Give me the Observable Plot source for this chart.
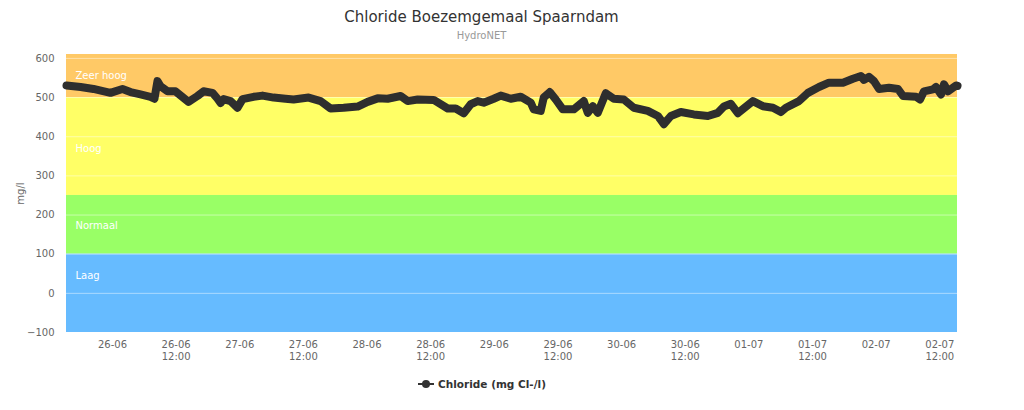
<!DOCTYPE html>
<html>
<head>
<meta charset="utf-8">
<script src="https://cdn.jsdelivr.net/npm/d3@7"></script>
<script src="https://cdn.jsdelivr.net/npm/@observablehq/plot@0.6"></script>
<style>
  body { margin: 0; background: #fff; font-family: "DejaVu Sans", sans-serif; }
  #wrap { position: relative; width: 1024px; height: 410px; overflow: hidden; }
  #title { position: absolute; left: 0; width: 963px; top: 8px; text-align: center; font-size: 15px; color: #333; }
  #subtitle { position: absolute; left: 0; width: 963px; top: 30px; text-align: center; font-size: 10px; color: #999; }
  #chart { position: absolute; left: 0; top: 46px; }
  #legend { position: absolute; left: 0; width: 963px; top: 378px; display: flex; justify-content: center; align-items: center; font-size: 10.5px; font-weight: bold; color: #333; }
  #legend svg { margin-right: 3px; }
</style>
</head>
<body>
<div id="wrap">
  <div id="title">Chloride Boezemgemaal Spaarndam</div>
  <div id="subtitle">HydroNET</div>
  <div id="chart"></div>
  <div id="legend"><svg width="18" height="10"><line x1="1" y1="5" x2="17" y2="5" stroke="#333" stroke-width="2"/><circle cx="9" cy="5" r="4" fill="#333"/></svg><span>Chloride (mg Cl-/l)</span></div>
</div>
<script>
// Measurement times and chloride values (mg Cl-/l)
const times = [
  "2023-06-25T15:20","2023-06-25T18:00","2023-06-25T20:25","2023-06-25T23:37",
  "2023-06-26T01:53","2023-06-26T03:24","2023-06-26T05:17","2023-06-26T07:10","2023-06-26T07:55",
  "2023-06-26T08:29","2023-06-26T09:04","2023-06-26T10:23","2023-06-26T11:53","2023-06-26T14:20",
  "2023-06-26T16:02","2023-06-26T17:10","2023-06-26T18:52","2023-06-26T19:49","2023-06-26T20:23",
  "2023-06-26T20:57","2023-06-26T22:16","2023-06-26T23:35",
  "2023-06-27T00:32","2023-06-27T02:36","2023-06-27T04:18","2023-06-27T06:23","2023-06-27T08:38",
  "2023-06-27T10:09","2023-06-27T12:59","2023-06-27T15:15","2023-06-27T17:08","2023-06-27T19:35",
  "2023-06-27T22:14",
  "2023-06-28T00:07","2023-06-28T02:00","2023-06-28T03:53","2023-06-28T06:20","2023-06-28T07:40",
  "2023-06-28T09:33","2023-06-28T12:34","2023-06-28T15:13","2023-06-28T16:43","2023-06-28T18:14",
  "2023-06-28T19:33","2023-06-28T20:52","2023-06-28T22:00","2023-06-28T23:53",
  "2023-06-29T01:13","2023-06-29T03:06","2023-06-29T04:59","2023-06-29T06:52","2023-06-29T07:26",
  "2023-06-29T08:45","2023-06-29T09:19","2023-06-29T10:27","2023-06-29T11:35","2023-06-29T12:55",
  "2023-06-29T14:59","2023-06-29T16:52","2023-06-29T17:37","2023-06-29T18:34","2023-06-29T19:31",
  "2023-06-29T21:01","2023-06-29T22:32",
  "2023-06-30T00:25","2023-06-30T02:18","2023-06-30T04:56","2023-06-30T06:50","2023-06-30T07:58",
  "2023-06-30T09:17","2023-06-30T11:10","2023-06-30T13:37","2023-06-30T16:16","2023-06-30T18:09",
  "2023-06-30T19:17","2023-06-30T20:36","2023-06-30T21:55",
  "2023-07-01T00:45","2023-07-01T02:38","2023-07-01T04:32","2023-07-01T06:02","2023-07-01T06:59",
  "2023-07-01T09:26","2023-07-01T11:08","2023-07-01T13:13","2023-07-01T15:06","2023-07-01T17:44",
  "2023-07-01T19:37","2023-07-01T21:08","2023-07-01T21:42","2023-07-01T22:38","2023-07-01T23:35",
  "2023-07-02T00:32","2023-07-02T02:25","2023-07-02T04:07","2023-07-02T05:04","2023-07-02T07:31",
  "2023-07-02T08:16","2023-07-02T09:01","2023-07-02T10:43","2023-07-02T11:17","2023-07-02T12:14",
  "2023-07-02T12:47","2023-07-02T13:33","2023-07-02T15:04","2023-07-02T15:20"
];
const chloride = [
  531, 527, 522, 512,
  522, 514, 508, 502, 497,
  542, 529, 516, 516, 489,
  504, 516, 512, 497, 486,
  496, 491, 474,
  496, 502, 505, 500, 497,
  495, 500, 491, 472, 474,
  477,
  489, 498, 497, 504, 491,
  495, 494, 472, 472, 460,
  483, 491, 487, 497,
  505, 497, 502, 487, 470,
  466, 500, 514, 495, 470,
  470, 491, 461, 478, 461,
  511, 497,
  495, 474, 466, 453, 432,
  453, 463, 457, 453, 461,
  477, 484, 460,
  491, 478, 474, 463, 474,
  491, 512, 527, 538, 538,
  548, 555, 545, 553, 542,
  522, 525, 522, 504, 502,
  495, 516, 521, 527, 508,
  534, 516, 531, 530
];

// Classification bands
const bandNames  = ["Zeer hoog", "Hoog", "Normaal", "Laag"];
const bandFrom   = [500, 250, 100, -100];
const bandTo     = [610, 500, 250, 100];
const bandLabelAt = [555, 368, 172, 45];
const bandColors = ["#FFC966", "#FFFF66", "#99FF66", "#66BBFF"];

// Axes
const yTicks = [-100, 0, 100, 200, 300, 400, 500, 600];
const xStart = "2023-06-25T15:20";
const xEnd   = "2023-07-02T15:20";
const xTickTimes = [
  "2023-06-26T00:00","2023-06-26T12:00","2023-06-27T00:00","2023-06-27T12:00",
  "2023-06-28T00:00","2023-06-28T12:00","2023-06-29T00:00","2023-06-29T12:00",
  "2023-06-30T00:00","2023-06-30T12:00","2023-07-01T00:00","2023-07-01T12:00",
  "2023-07-02T00:00","2023-07-02T12:00"
];

const parse = d3.utcParse("%Y-%m-%dT%H:%M");
const data = times.map((t, i) => ({ t: parse(t), v: chloride[i] }));
const bands = bandNames.map((name, i) => ({ name, from: bandFrom[i], to: bandTo[i], at: bandLabelAt[i], color: bandColors[i] }));
const t0 = parse(xStart), t1 = parse(xEnd);
const xTicks = xTickTimes.map(parse);
const fmtDay = d3.utcFormat("%d-%m");
const fmtHour = d3.utcFormat("%H:%M");
const tickFmt = d => d.getUTCHours() === 0 ? fmtDay(d) : fmtDay(d) + "\n" + fmtHour(d);

const chart = Plot.plot({
  width: 1024,
  height: 324,
  marginLeft: 66,
  marginRight: 67,
  marginTop: 8,
  marginBottom: 38,
  style: { fontFamily: "DejaVu Sans, sans-serif", fontSize: "10px", color: "#666", background: "transparent" },
  x: { type: "utc", domain: [t0, t1] },
  y: { domain: [-100, 610] },
  marks: [
    Plot.rect(bands, { x1: () => t0, x2: () => t1, y1: "from", y2: "to", fill: "color" }),
    Plot.ruleY(yTicks, { stroke: "#fff", strokeOpacity: 0.45 }),
    Plot.text(bands, { x: () => t0, y: "at", text: "name", dx: 9, textAnchor: "start", fill: "#fff", fontSize: 10 }),
    Plot.line(data, { x: "t", y: "v", stroke: "#2e2e2e", strokeWidth: 8, strokeLinejoin: "round", strokeLinecap: "round" }),
    Plot.axisX({ ticks: xTicks, tickFormat: tickFmt, tickSize: 0, tickPadding: 7, lineHeight: 1.2, label: null, fill: "#666" }),
    Plot.axisY({ ticks: yTicks, tickSize: 0, tickPadding: 12, label: "mg/l", labelAnchor: "center", labelOffset: 50, labelArrow: "none", fill: "#666" })
  ]
});
document.getElementById("chart").appendChild(chart);
</script>
</body>
</html>
